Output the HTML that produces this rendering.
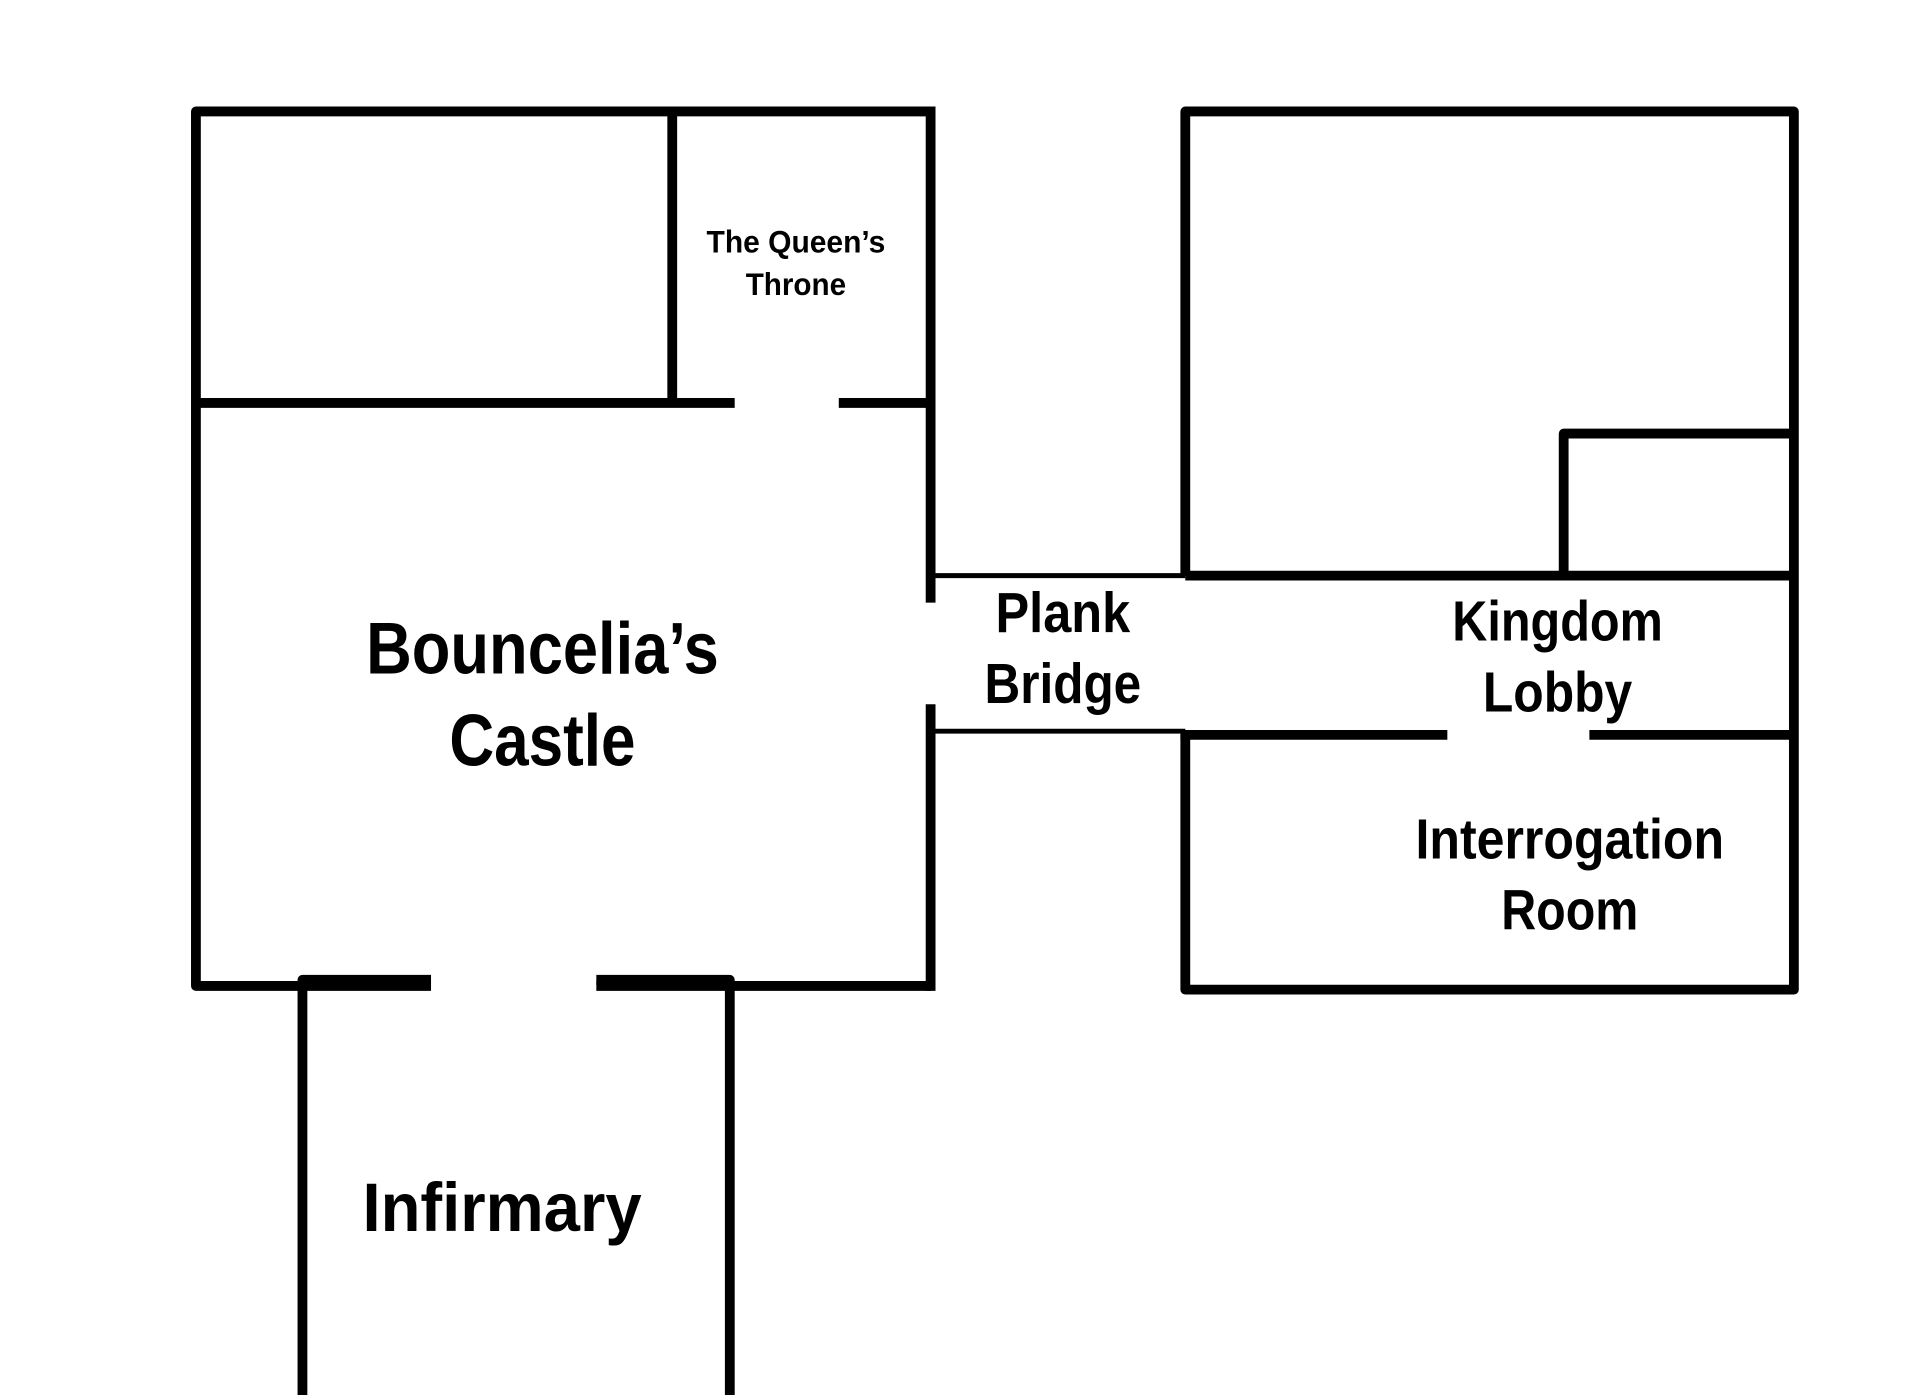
<!DOCTYPE html>
<html><head><meta charset="utf-8"><style>
html,body{margin:0;padding:0;background:#fff;}
svg{display:block;}
text{font-family:"Liberation Sans Narrow","Liberation Sans",sans-serif;font-weight:bold;fill:#000;text-anchor:middle;}
</style></head><body>
<svg width="1920" height="1395" viewBox="0 0 1568 1139" preserveAspectRatio="none" xmlns="http://www.w3.org/2000/svg">
<g stroke="#000" stroke-width="8" fill="none" stroke-linecap="butt" stroke-linejoin="round">
<path d="M760 91 H160 V805 H352"/>
<path d="M487 805 H760"/>
<path d="M760 87 V492"/>
<path d="M760 575 V809"/>
<path d="M160 329 H600"/>
<path d="M685 329 H760"/>
<path d="M549 91 V329"/>
<path d="M247 1140 V800 H352"/>
<path d="M487 800 H596 V1140"/>
<path d="M968 470 V91 H1465 V808 H968 V600"/>
<path d="M968 470 H1465"/>
<path d="M1277 470 V354 H1465"/>
<path d="M964 600 H1182"/>
<path d="M1298 600 H1465"/>
</g>
<g stroke="#000" stroke-width="4">
<path d="M762 470 H968"/>
<path d="M762 597 H968"/>
</g>
<text x="650" y="206" font-size="26" textLength="146" lengthAdjust="spacingAndGlyphs">The Queen’s</text>
<text x="650" y="241" font-size="26" textLength="82" lengthAdjust="spacingAndGlyphs">Throne</text>
<text x="443" y="550" font-size="60" textLength="288" lengthAdjust="spacingAndGlyphs">Bouncelia’s</text>
<text x="443" y="625" font-size="60" textLength="152" lengthAdjust="spacingAndGlyphs">Castle</text>
<text x="868" y="516" font-size="46" textLength="110" lengthAdjust="spacingAndGlyphs">Plank</text>
<text x="868" y="574" font-size="46" textLength="128" lengthAdjust="spacingAndGlyphs">Bridge</text>
<text x="1272" y="523" font-size="46" textLength="172" lengthAdjust="spacingAndGlyphs">Kingdom</text>
<text x="1272" y="581" font-size="46" textLength="122" lengthAdjust="spacingAndGlyphs">Lobby</text>
<text x="1282" y="701" font-size="46" textLength="252" lengthAdjust="spacingAndGlyphs">Interrogation</text>
<text x="1282" y="759" font-size="46" textLength="112" lengthAdjust="spacingAndGlyphs">Room</text>
<text x="410" y="1005" font-size="56" textLength="228" lengthAdjust="spacingAndGlyphs">Infirmary</text>
</svg>
</body></html>
